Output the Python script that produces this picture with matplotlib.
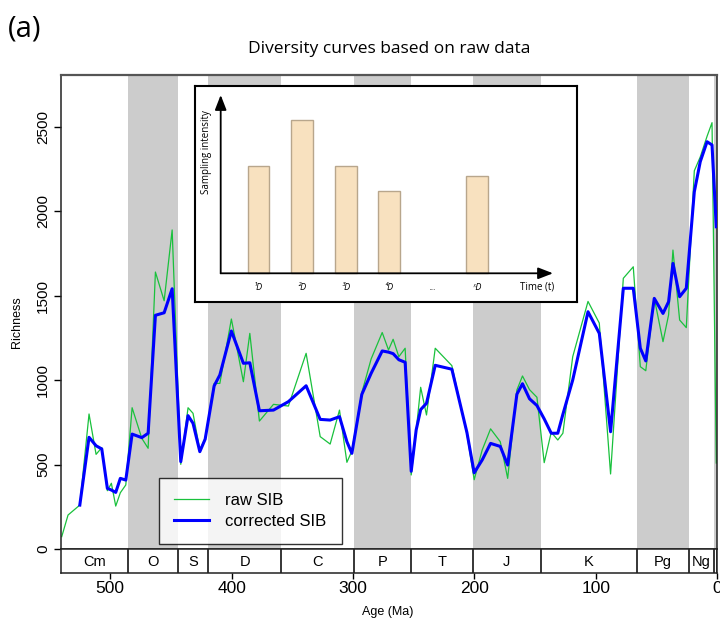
import matplotlib
matplotlib.use("Agg")
import matplotlib.pyplot as plt
import numpy as np

# sommets des courbes de diversite (Ma)
AGES = [540.0, 534.8, 525.1, 517.5, 511.7, 507.0, 502.4, 499.1, 495.5, 491.7,
        487.2, 482.0, 474.0, 468.8, 462.8, 455.6, 449.0, 441.9, 435.9, 431.8,
        426.2, 421.8, 414.4, 409.7, 400.2, 390.3, 385.0, 377.1, 365.5, 353.2,
        338.6, 327.0, 318.8, 311.1, 305.0, 300.9, 292.7, 285.0, 275.9, 270.7,
        266.9, 262.2, 257.0, 252.0, 247.9, 244.2, 239.4, 232.2, 218.5, 206.1,
        200.1, 193.5, 186.6, 178.6, 172.5, 164.9, 160.3, 154.5, 148.4, 142.4,
        136.6, 131.2, 127.0, 118.9, 106.3, 97.0, 87.7, 77.2, 69.0, 63.2,
        58.7, 51.7, 44.5, 39.9, 36.3, 30.8, 25.3, 18.7, 13.8, 8.2,
        4.1, 0.6]
RAW_SIB = [73, 201, 260, 799, 560, 600, 345, 389, 254, 333,
           379, 836, 655, 596, 1639, 1469, 1888, 501, 836, 803,
           586, 655, 980, 980, 1361, 990, 1276, 757, 856, 846,
           1158, 665, 621, 822, 513, 580, 925, 1125, 1281, 1178,
           1241, 1138, 1188, 438, 700, 957, 793, 1188, 1085, 680,
           410, 586, 711, 635, 418, 941, 1024, 943, 898, 511,
           691, 645, 685, 1138, 1465, 1337, 444, 1602, 1670, 1079,
           1055, 1485, 1227, 1385, 1769, 1355, 1310, 2238, 2320, 2442,
           2523, 509]
CORRECTED_SIB = [np.nan, np.nan, 260, 661, 611, 592, 359, 349, 335, 418,
                 408, 680, 659, 685, 1383, 1398, 1540, 517, 789, 744,
                 576, 650, 965, 1030, 1290, 1099, 1102, 818, 822, 872,
                 966, 767, 763, 783, 635, 566, 915, 1040, 1172, 1165,
                 1156, 1120, 1105, 460, 705, 825, 862, 1087, 1064, 690,
                 451, 527, 625, 607, 497, 916, 978, 889, 849, 770,
                 685, 685, 797, 1000, 1404, 1276, 694, 1543, 1543, 1188,
                 1113, 1483, 1394, 1463, 1690, 1493, 1543, 2114, 2292, 2410,
                 2391, 1907]

# echelle des temps geologiques
PERIODS = ["Cm", "O", "S", "D", "C", "P", "T", "J", "K", "Pg", "Ng", "Q"]
PERIOD_BOUNDS = [541.0, 485.4, 443.8, 419.2, 358.9, 298.9, 251.9, 201.3,
                 145.0, 66.0, 23.03, 2.58, 0.0]
SHADED = ["O", "D", "P", "J", "Pg", "Q"]
X_TICKS = [500, 400, 300, 200, 100, 0]
Y_TICKS = [0, 500, 1000, 1500, 2000, 2500]

# encart schematique
INSET_LABELS = ["¹D", "²D", "³D", "⁴D", "...", "ⁿD"]
INSET_HEIGHTS = [107, 153, 107, 82, np.nan, 97]

AX_FONT = "Liberation Sans"
MY_FONT = "Open Sans"
GRAY = "#cccccc"

fig = plt.figure(figsize=(7.2, 6.25), dpi=100)
W, H = 720, 625


def box(l, t, r, b):
    return [l / W, 1 - b / H, (r - l) / W, (b - t) / H]


XLIM = (540.6, 0)

# ---- panneau principal
ax = fig.add_axes(box(61, 75, 717, 549))
for name, a0, a1 in zip(PERIODS, PERIOD_BOUNDS[:-1], PERIOD_BOUNDS[1:]):
    if name in SHADED:
        ax.axvspan(a1, a0, color=GRAY, lw=0, zorder=0)
ages = np.asarray(AGES)
ax.plot(ages, RAW_SIB, color="#19c13c", lw=0.9, label="raw SIB", zorder=2)
ax.plot(ages, CORRECTED_SIB, color="#0000ff", lw=2.2, label="corrected SIB",
        zorder=3)
ax.set_xlim(XLIM)
ax.set_ylim(0, 2805)
ax.set_xticks([])
ax.set_yticks(Y_TICKS)
ax.set_yticklabels([str(v) for v in Y_TICKS], rotation=90, va="center",
                   family=AX_FONT, fontsize=11)
ax.tick_params(axis="y", length=5, width=1, pad=3)
for s in ax.spines.values():
    s.set_linewidth(1.1)
    s.set_color("#222222")
ax.spines["top"].set_color("#555555")
ax.spines["top"].set_linewidth(1.6)

leg = ax.legend(loc="lower left", bbox_to_anchor=(0.149, 0.011),
                borderaxespad=0, fancybox=False, edgecolor="black",
                prop={"family": AX_FONT, "size": 12}, handlelength=2.1,
                handletextpad=1.0, borderpad=0.9, labelspacing=0.35)
leg.get_frame().set_linewidth(1.0)

# ---- bandeau des periodes
pax = fig.add_axes(box(61, 549, 717, 573))
pax.set_xlim(XLIM)
pax.set_ylim(0, 1)
pax.set_yticks([])
for name, a0, a1 in zip(PERIODS, PERIOD_BOUNDS[:-1], PERIOD_BOUNDS[1:]):
    pax.axvline(a1, color="black", lw=1.1)
    if a0 - a1 > 5:
        pax.text((a0 + a1) / 2, 0.45, name, ha="center", va="center",
                 family=AX_FONT, fontsize=10.5)
pax.set_xticks(X_TICKS)
pax.set_xticklabels([str(v) for v in X_TICKS], family=AX_FONT, fontsize=12.5)
pax.tick_params(axis="x", length=4, width=1, pad=2)
for s in pax.spines.values():
    s.set_linewidth(1.1)
    s.set_color("#222222")

fig.text(17 / W, 1 - 322 / H, "Richness", rotation=90, ha="center",
         va="center", family=AX_FONT, fontsize=9)
fig.text(388 / W, 1 - 612 / H, "Age (Ma)", ha="center", va="center",
         family=AX_FONT, fontsize=9)
fig.text(389 / W, 1 - 49 / H, "Diversity curves based on raw data",
         ha="center", va="center", family=MY_FONT, fontsize=12.5)
fig.text(8 / W, 1 - 29 / H, "(a)", ha="left", va="center", family=MY_FONT,
         fontsize=21)

# ---- encart : intensite d'echantillonnage par intervalle
iax = fig.add_axes(box(195, 86, 577, 302))
iax.set_xlim(-1.456, 7.30)
iax.set_ylim(-28.7, 187.3)
iax.set_xticks([])
iax.set_yticks([])
iax.set_facecolor("white")
for s in iax.spines.values():
    s.set_linewidth(1.5)
    s.set_color("black")
idx = np.arange(len(INSET_LABELS))
heights = np.asarray(INSET_HEIGHTS, dtype=float)
keep = ~np.isnan(heights)
iax.bar(idx[keep], heights[keep], width=0.5, color="#f8e1bf",
        edgecolor="#b8a68c", lw=1.0, zorder=2)
arrow = dict(arrowstyle="-|>,head_length=0.9,head_width=0.35", color="black",
             lw=1.3, shrinkA=0, shrinkB=0)
iax.annotate("", xy=(-0.867, 178.3), xytext=(-0.867, 0), arrowprops=arrow,
             zorder=3)
iax.annotate("", xy=(6.75, 0), xytext=(-0.867, 0), arrowprops=arrow, zorder=3)
for i, lab in zip(idx, INSET_LABELS):
    iax.text(i, -14, lab, ha="center", va="center", fontsize=6.5,
             style="italic", family=MY_FONT)
iax.text(6.38, -14, "Time (t)", ha="center", va="center", fontsize=7,
         family=MY_FONT)
iax.text(-1.19, 121.6, "Sampling intensity", rotation=90, ha="center",
         va="center", fontsize=7, family=MY_FONT)

fig.savefig("out.png", dpi=100)
